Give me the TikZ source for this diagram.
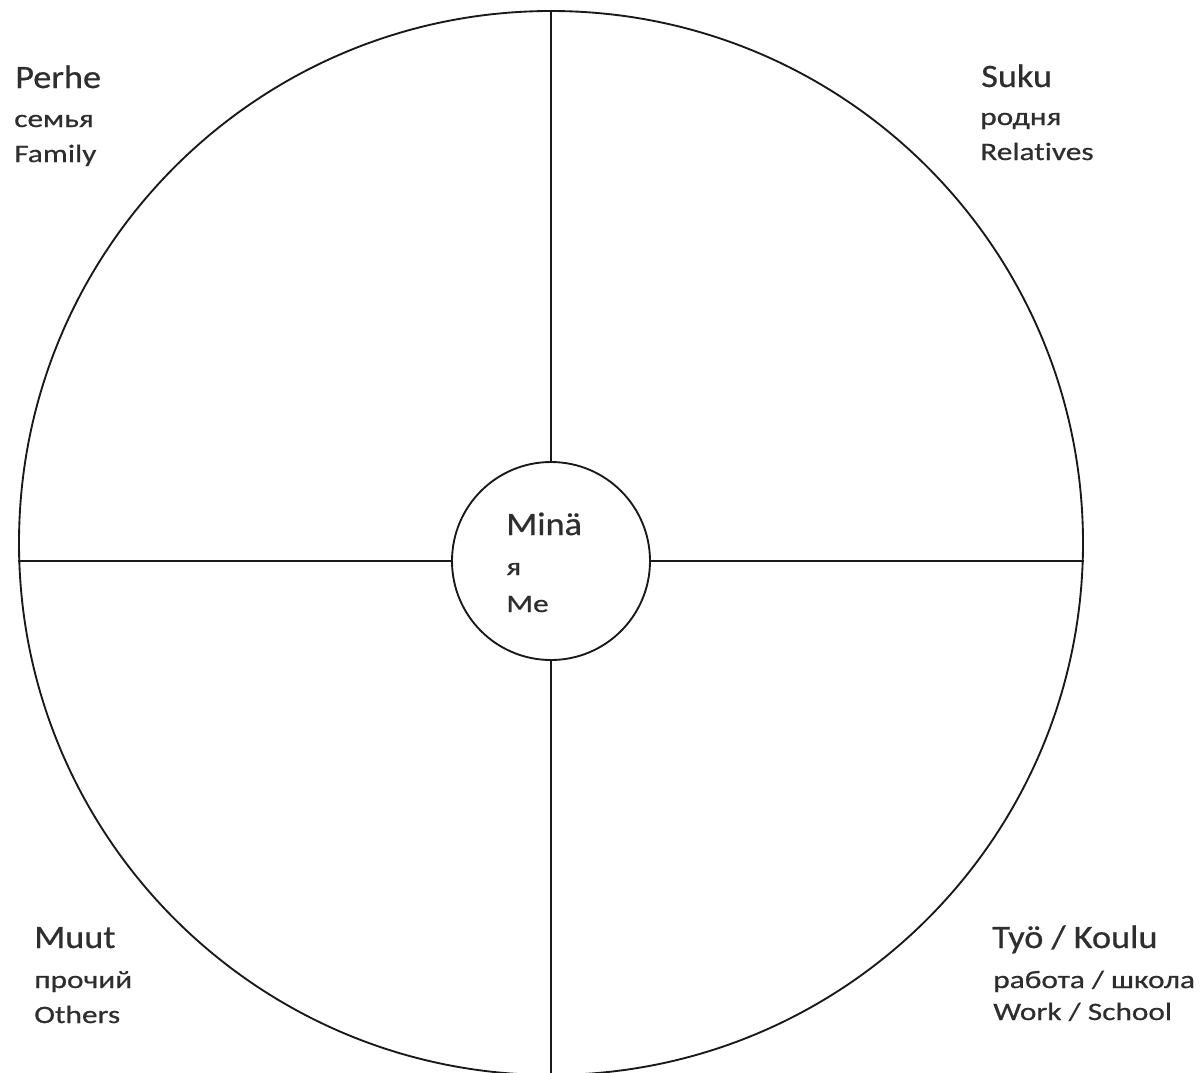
\documentclass[tikz,border=0pt]{standalone}
\usepackage{fontspec}
\setmainfont{Carlito}
\newfontfamily\bigfam[FakeStretch=1.11,FakeBold=0.6,Ligatures=NoCommon]{Carlito}
\newfontfamily\smallfam[FakeStretch=1.25,FakeBold=0.6,Ligatures=NoCommon]{Carlito}
\begin{document}
\begin{tikzpicture}[x=0.75pt,y=-0.75pt,
  ring/.style={draw=black!90, line width=1.4pt},
  divider/.style={draw=black!90, line width=1.4pt},
  bigtxt/.style={anchor=base west, inner sep=0pt, text=black!82, font=\bigfam\fontsize{24.5}{29}\selectfont},
  smalltxt/.style={anchor=base west, inner sep=0pt, text=black!82, font=\smallfam\fontsize{18.8}{22}\selectfont}]
\useasboundingbox (0,0) rectangle (1203,1072);
\fill[white] (0,0) rectangle (1203,1072);
\begin{scope}
\clip (0,0) rectangle (1203,1072);
\node[ring, circle, inner sep=0pt, minimum size=798pt] (outer) at (551,543) {};
\node[ring, circle, inner sep=0pt, minimum size=148.5pt] (me) at (551,561) {};
\draw[divider] (outer.north) -- (me.north);
\draw[divider] (me.south) -- (outer.south);
\draw[divider] (outer.west |- me.west) -- (me.west);
\draw[divider] (me.east) -- (outer.east |- me.east);
\end{scope}
% Family
\node[bigtxt] (perhe) at (15,88) {Perhe};
\node[smalltxt] (semya) at (14,127) {семья};
\node[smalltxt] (family) at (14,162) {Family};
% Relatives
\node[bigtxt] (suku) at (981,87) {Suku};
\node[smalltxt] (rodnya) at (980,125) {родня};
\node[smalltxt] (relatives) at (980,160) {Relatives};
% Me
\node[bigtxt] (mina) at (506,535) {Minä};
\node[smalltxt] (ya) at (506,575) {я};
\node[smalltxt] (meen) at (506,612) {Me};
% Others
\node[bigtxt] (muut) at (34,948) {Muut};
\node[smalltxt] (prochiy) at (34,988) {прочий};
\node[smalltxt] (others) at (34,1023) {Others};
% Work / School
\node[bigtxt] (tyo) at (992,948) {Työ / Koulu};
\node[smalltxt] (rabota) at (993,988) {работа / школа};
\node[smalltxt] (work) at (993,1020) {Work / School};
\end{tikzpicture}
\end{document}
